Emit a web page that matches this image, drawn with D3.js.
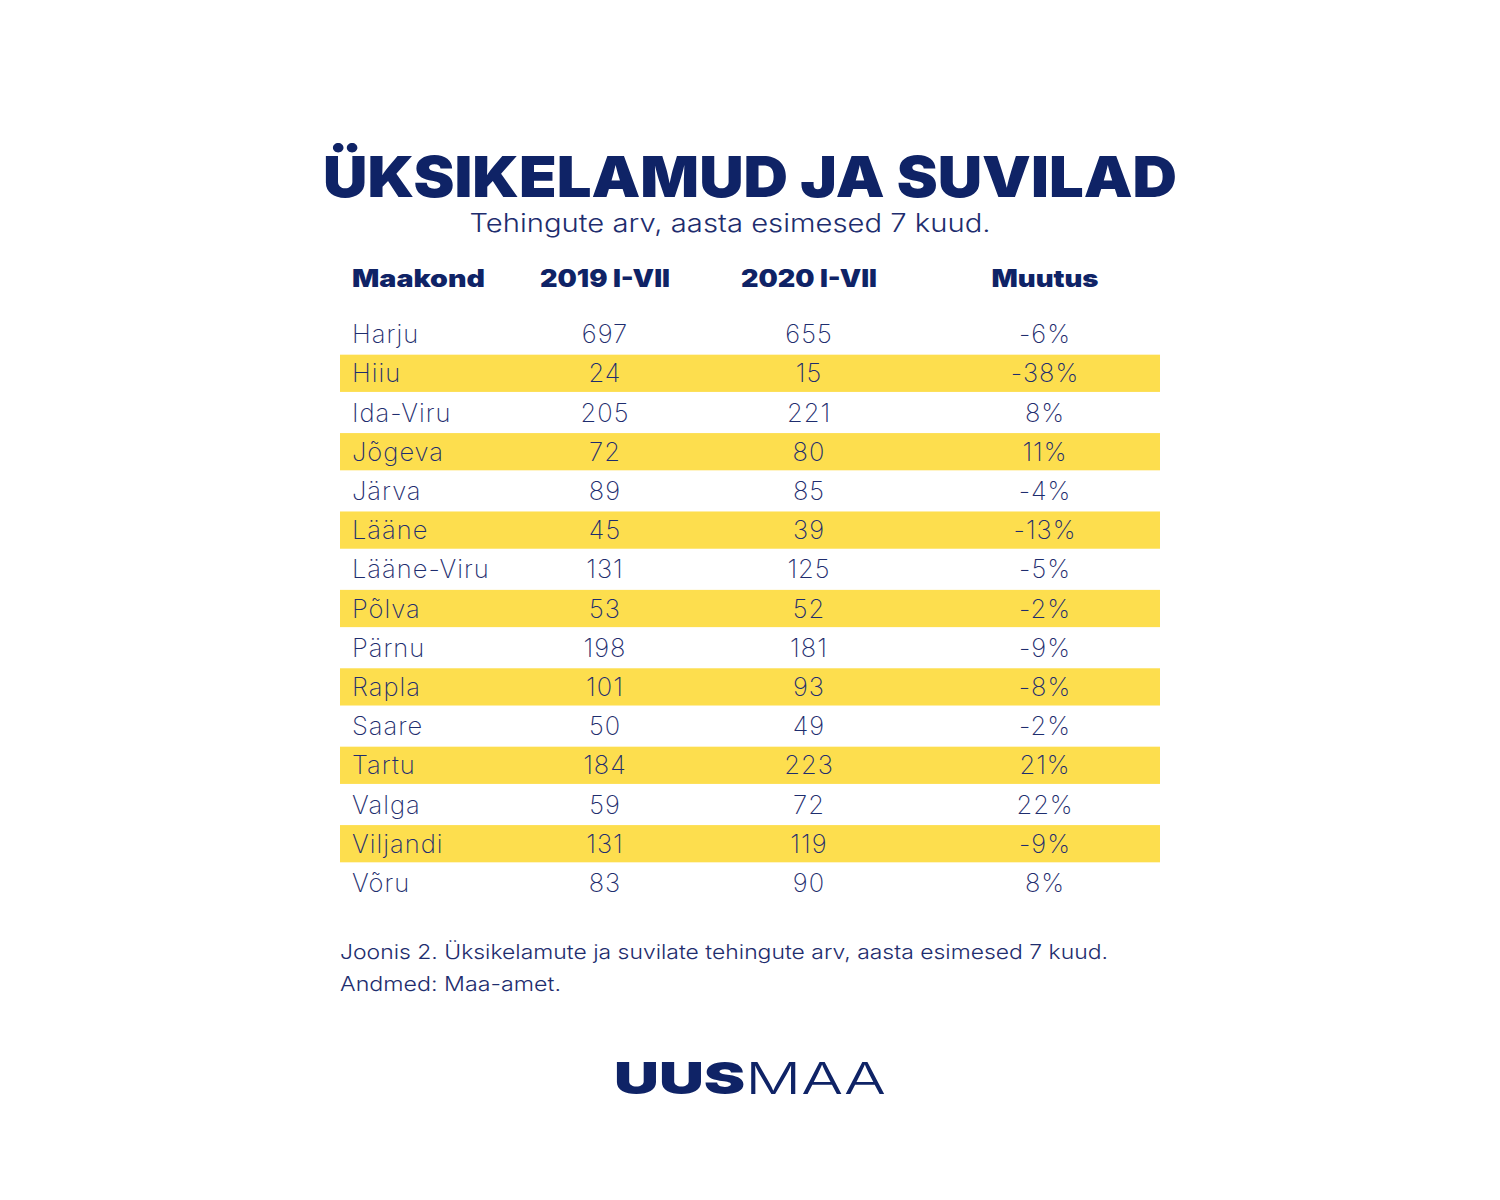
<!DOCTYPE html>
<html><head><meta charset="utf-8">
<script src="https://cdn.jsdelivr.net/npm/d3@7"></script>
<style>body{margin:0;background:#fff}</style>
</head><body>
<script>
const counties = ["Harju","Hiiu","Ida-Viru","Jõgeva","Järva","Lääne","Lääne-Viru","Põlva","Pärnu","Rapla","Saare","Tartu","Valga","Viljandi","Võru"];
const v2019 = [697,24,205,72,89,45,131,53,198,101,50,184,59,131,83];
const v2020 = [655,15,221,80,85,39,125,52,181,93,49,223,72,119,90];
const change = [-6,-38,8,11,-4,-13,-5,-2,-9,-8,-2,21,22,-9,8];
const headers = ["Maakond","2019 I-VII","2020 I-VII","Muutus"];
const columns = ["name","y2019","y2020","chg"];

const W=1500,H=1200;
const navy="#0f2366", text="#1e2d6e", yellow="#fdde4e";
const svg=d3.select("body").append("svg").attr("width",W).attr("height",H);
svg.append("rect").attr("width",W).attr("height",H).attr("fill","#fff");

svg.append("text").attr("x",750).attr("y",197).attr("text-anchor","middle")
 .attr("font-family","Inter").attr("font-weight",900).attr("font-size",57)
 .attr("fill",navy).attr("textLength",854).attr("lengthAdjust","spacingAndGlyphs")
 .text("ÜKSIKELAMUD JA SUVILAD");
svg.append("text").attr("x",730).attr("y",232).attr("text-anchor","middle")
 .attr("font-family","Inter").attr("font-weight",300).attr("font-size",25)
 .attr("fill",text).attr("textLength",521).attr("lengthAdjust","spacingAndGlyphs")
 .text("Tehingute arv, aasta esimesed 7 kuud.");

const y=d3.scaleBand().domain(counties).range([314.5,902.5]).paddingInner(0.05).paddingOuter(0.025);
const colX={name:352,y2019:605,y2020:809,chg:1045};
const hdrLen=[133,130,136,107];

const hdr=svg.append("g");
headers.forEach((h,i)=>{
  hdr.append("text").attr("x",colX[columns[i]]).attr("y",287)
   .attr("text-anchor",i===0?"start":"middle")
   .attr("font-family","Inter").attr("font-weight",900).attr("font-size",24)
   .attr("fill",navy).attr("textLength",hdrLen[i]).attr("lengthAdjust","spacingAndGlyphs").text(h);
});

const rows=counties.map((c,i)=>({name:c,y2019:v2019[i],y2020:v2020[i],chg:change[i]+"%",i}));
svg.append("g").selectAll("rect").data(rows.filter(d=>d.i%2===1)).join("rect")
 .attr("x",340).attr("width",820).attr("y",d=>y(d.name)).attr("height",y.bandwidth()).attr("fill",yellow);

const g=svg.append("g").attr("font-family","Inter").attr("font-weight",250).attr("font-size",25.5)
 .attr("letter-spacing",1).attr("fill",text);
rows.forEach(d=>{
  const cy=y(d.name)+y.bandwidth()/2+9;
  columns.forEach((c,j)=>{
    g.append("text").attr("x",colX[c]).attr("y",cy)
     .attr("text-anchor",j===0?"start":"middle").text(d[c]);
  });
});

svg.append("text").attr("x",340).attr("y",959).attr("font-family","Inter").attr("font-weight",300)
 .attr("font-size",20).attr("fill",text).attr("textLength",768).attr("lengthAdjust","spacingAndGlyphs")
 .text("Joonis 2. Üksikelamute ja suvilate tehingute arv, aasta esimesed 7 kuud.");
svg.append("text").attr("x",340).attr("y",991).attr("font-family","Inter").attr("font-weight",300)
 .attr("font-size",20).attr("fill",text).attr("textLength",221).attr("lengthAdjust","spacingAndGlyphs").text("Andmed: Maa-amet.");

const logo=svg.append("text").attr("x",614).attr("y",1094).attr("font-family","Inter").attr("font-size",44).attr("fill",navy)
 .attr("textLength",272).attr("lengthAdjust","spacingAndGlyphs");
logo.append("tspan").attr("font-weight",900).text("UUS");
logo.append("tspan").attr("font-weight",300).text("MAA");
</script>
</body></html>
